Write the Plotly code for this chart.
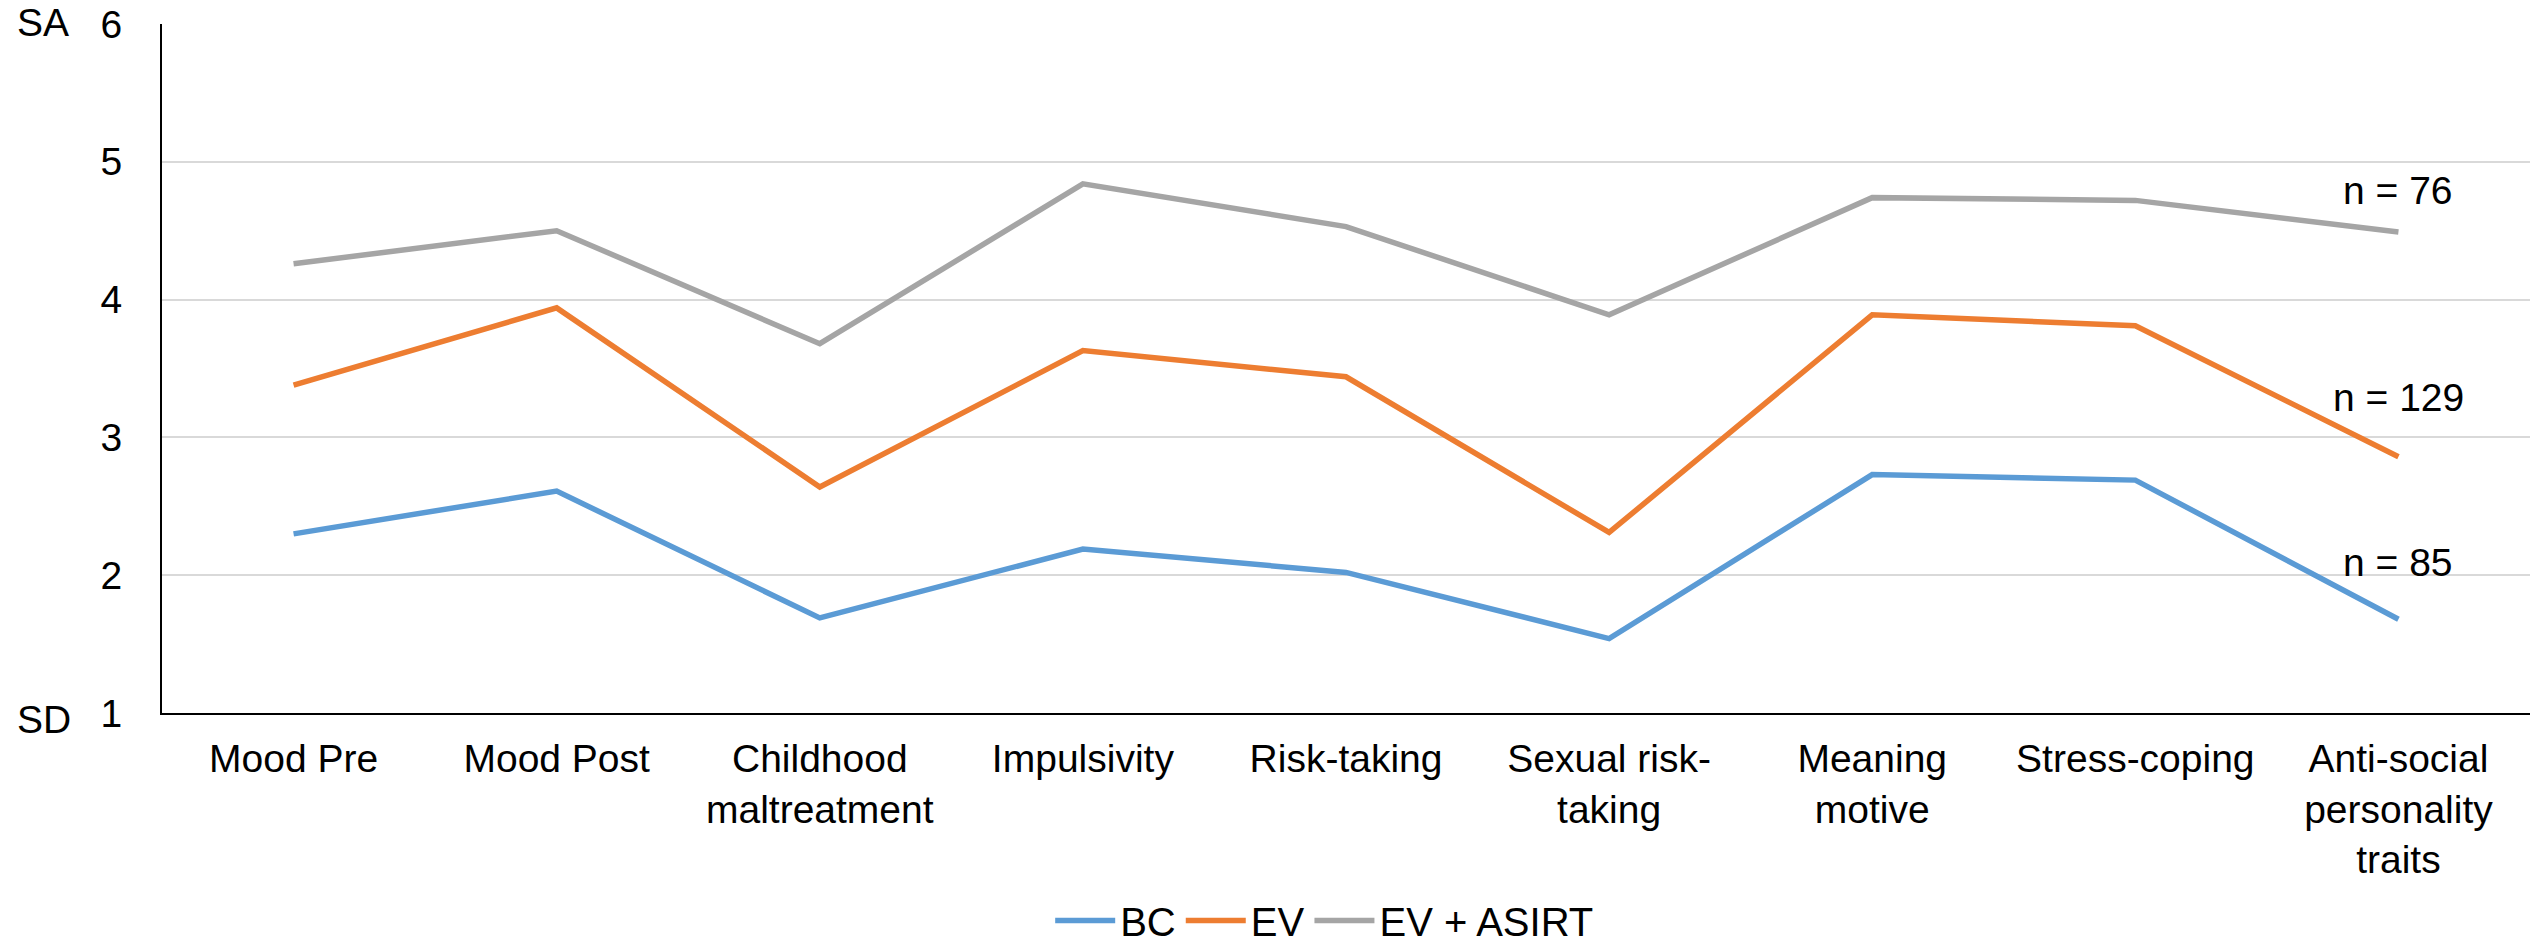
import plotly.graph_objects as go

categories = ["Mood Pre", "Mood Post", "Childhood<br>maltreatment", "Impulsivity",
              "Risk-taking", "Sexual risk-<br>taking", "Meaning<br>motive",
              "Stress-coping", "Anti-social<br>personality<br>traits"]
bc = [2.30, 2.61, 1.69, 2.19, 2.02, 1.54, 2.73, 2.69, 1.68]
ev = [3.38, 3.94, 2.64, 3.63, 3.44, 2.31, 3.89, 3.81, 2.86]
ev_asirt = [4.26, 4.50, 3.68, 4.84, 4.53, 3.89, 4.74, 4.72, 4.49]
series_names = ["BC", "EV", "EV + ASIRT"]
colors = ["#5B9BD5", "#ED7D31", "#A5A5A5"]
n_labels = ["n = 85", "n = 129", "n = 76"]
n_label_y = [2.09, 3.29, 4.79]

FONT = "Liberation Sans, Arial, sans-serif"
FS = 39
fig = go.Figure()
for name, vals, col in zip(series_names, [bc, ev, ev_asirt], colors):
    fig.add_trace(go.Scatter(x=categories, y=vals, mode="lines", name=name,
                             line=dict(color=col, width=5.5)))

for txt, yv in zip(n_labels, n_label_y):
    fig.add_annotation(x=8.0, y=yv, xref="x", yref="y", text=txt, showarrow=False,
                       font=dict(size=FS, color="black", family=FONT))

fig.add_annotation(x=-0.062, y=1.0015, xref="paper", yref="paper", text="SA", showarrow=False,
                   xanchor="left", yanchor="middle", font=dict(size=FS, color="black", family=FONT))
fig.add_annotation(x=-0.062, y=-0.0095, xref="paper", yref="paper", text="SD", showarrow=False,
                   xanchor="left", yanchor="middle", font=dict(size=FS, color="black", family=FONT))

fig.update_layout(
    width=2531, height=931,
    margin=dict(l=154, r=9, t=16, b=226, autoexpand=False),
    paper_bgcolor="white", plot_bgcolor="white",
    font=dict(family=FONT, size=FS, color="black"),
    showlegend=True,
    legend=dict(orientation="h", x=0.491, xanchor="center", y=-0.301, yanchor="middle",
                font=dict(size=40), itemwidth=60),
    xaxis=dict(type="category", range=[-0.5, 8.5], showline=True, linecolor="black",
               linewidth=2, showgrid=False, ticks="", tickfont=dict(size=FS),
               ticklabelstandoff=10, automargin=False),
    yaxis=dict(range=[1, 6], dtick=1, showline=True, linecolor="black", linewidth=2,
               showgrid=True, gridcolor="#D9D9D9", gridwidth=2, ticks="",
               tickfont=dict(size=FS), ticklabelstandoff=30, zeroline=False,
               automargin=False, ticklabeloverflow="allow"),
)
fig.write_html("out.html")
